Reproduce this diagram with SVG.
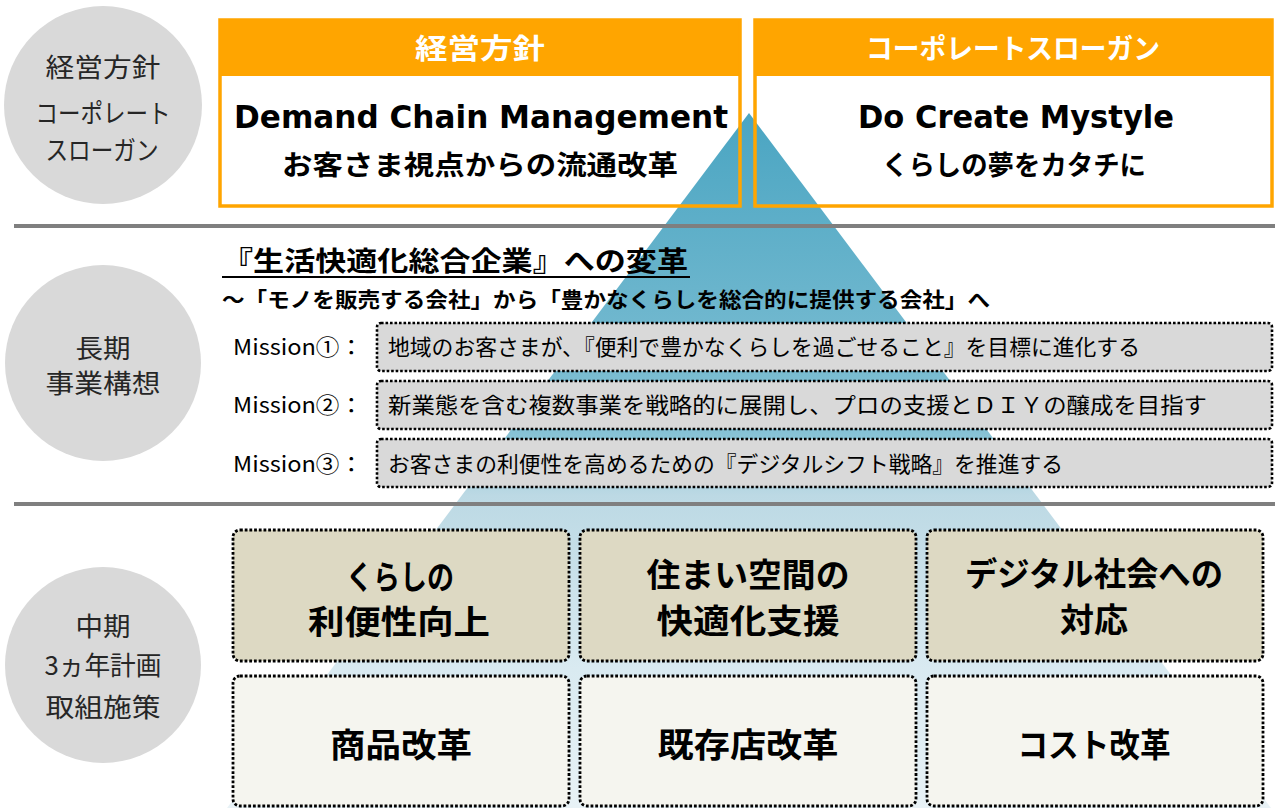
<svg xmlns="http://www.w3.org/2000/svg" width="1275" height="808" viewBox="0 0 1275 808">
<defs>
<linearGradient id="pyr" gradientUnits="userSpaceOnUse" x1="0" y1="113" x2="0" y2="808">
<stop offset="0" stop-color="#4aa5c2"/>
<stop offset="0.3" stop-color="#6fb7ce"/>
<stop offset="0.46" stop-color="#86c2d5"/>
<stop offset="0.55" stop-color="#bcd9e4"/>
<stop offset="0.8" stop-color="#d9eaf1"/>
<stop offset="1" stop-color="#e8f2f6"/>
</linearGradient>
<style>
.jp{font-family:'Noto Sans CJK JP','Noto Sans',sans-serif;}
.lat{font-family:'DejaVu Sans','Noto Sans CJK JP',sans-serif;}
.circ{fill:#d9d9d9;}
.ctxt{font-size:26px;fill:#262626;text-anchor:middle;}
.sep{stroke:#7f7f7f;stroke-width:4;}
.obox{fill:none;stroke:#ffa500;stroke-width:3.5;}
.ohead{fill:#ffa500;}
.htxt{font-size:28px;font-weight:bold;fill:#fff;text-anchor:middle;}
.big{font-size:32px;font-weight:bold;fill:#000;text-anchor:middle;}
.sub{font-size:27px;font-weight:bold;fill:#000;text-anchor:middle;}
.mbox{fill:#d9d9d9;stroke:#000;stroke-width:2.6;stroke-dasharray:2.6 1.9;}
.mtxt{font-size:22px;fill:#000;}
.tbox{fill:#ddd9c3;stroke:#000;stroke-width:2.8;stroke-dasharray:2.8 1.9;}
.bbox{fill:#f5f5ef;stroke:#000;stroke-width:2.8;stroke-dasharray:2.8 1.9;}
.btxt{font-size:33px;font-weight:bold;fill:#000;text-anchor:middle;}
</style>
</defs>
<rect width="1275" height="808" fill="#fff"/>

<!-- white fills of top boxes -->
<rect x="220" y="20" width="520" height="186" fill="#fff"/>
<rect x="755" y="20" width="517" height="186" fill="#fff"/>

<!-- pyramid background -->
<polygon id="pyramid" points="749,113 1271,808 227,808" fill="url(#pyr)"/>

<!-- separators -->
<g id="separators">
<line class="sep" x1="14" y1="226" x2="1275" y2="226"/>
<line class="sep" x1="14" y1="504" x2="1275" y2="504"/>
</g>

<!-- side circles -->
<g id="circle1">
<circle class="circ" cx="103" cy="105" r="99"/>
<text class="jp ctxt" x="103" y="77" textLength="115" lengthAdjust="spacingAndGlyphs">経営方針</text>
<text class="jp ctxt" x="103" y="123" textLength="135" lengthAdjust="spacingAndGlyphs">コーポレート</text>
<text class="jp ctxt" x="102" y="160" textLength="113" lengthAdjust="spacingAndGlyphs">スローガン</text>
</g>
<g id="circle2">
<circle class="circ" cx="103" cy="363" r="98"/>
<text class="jp ctxt" x="103" y="358" textLength="55" lengthAdjust="spacingAndGlyphs">長期</text>
<text class="jp ctxt" x="103" y="393" textLength="115" lengthAdjust="spacingAndGlyphs">事業構想</text>
</g>
<g id="circle3">
<circle class="circ" cx="103" cy="665" r="98"/>
<text class="jp ctxt" x="103" y="636" textLength="55" lengthAdjust="spacingAndGlyphs">中期</text>
<text class="jp ctxt" x="103" y="675" textLength="117" lengthAdjust="spacingAndGlyphs">3ヵ年計画</text>
<text class="jp ctxt" x="103" y="717" textLength="115" lengthAdjust="spacingAndGlyphs">取組施策</text>
</g>

<!-- top boxes -->
<g id="policy">
<rect class="ohead" x="220" y="20" width="520" height="56"/>
<rect class="obox" x="220" y="20" width="520" height="186"/>
<text class="jp htxt" x="480" y="59" textLength="130" lengthAdjust="spacingAndGlyphs">経営方針</text>
<text class="lat big" x="481" y="128" textLength="494" lengthAdjust="spacingAndGlyphs">Demand Chain Management</text>
<text class="jp sub" x="480" y="175" textLength="396" lengthAdjust="spacingAndGlyphs">お客さま視点からの流通改革</text>
</g>
<g id="slogan">
<rect class="ohead" x="755" y="20" width="517" height="56"/>
<rect class="obox" x="755" y="20" width="517" height="186"/>
<text class="jp htxt" x="1013" y="59" textLength="294" lengthAdjust="spacingAndGlyphs">コーポレートスローガン</text>
<text class="lat big" x="1016" y="128" textLength="316" lengthAdjust="spacingAndGlyphs">Do Create Mystyle</text>
<text class="jp sub" x="1014" y="175" textLength="264" lengthAdjust="spacingAndGlyphs">くらしの夢をカタチに</text>
</g>

<!-- long-term vision -->
<g id="vision-title">
<text class="jp" x="222" y="271" font-size="27" font-weight="bold" fill="#000" textLength="466" lengthAdjust="spacingAndGlyphs">『生活快適化総合企業』への変革</text>
<line x1="222" y1="277" x2="690" y2="277" stroke="#000" stroke-width="2"/>
<text class="jp" x="222" y="307" font-size="21" font-weight="bold" fill="#000" textLength="768" lengthAdjust="spacingAndGlyphs">～「モノを販売する会社」から「豊かなくらしを総合的に提供する会社」へ</text>
</g>

<g id="mission1">
<text class="jp mtxt" x="233" y="355" textLength="130" lengthAdjust="spacingAndGlyphs">Mission①：</text>
<rect class="mbox" x="377" y="323" width="895" height="48" rx="4"/>
<text class="jp mtxt" x="388" y="355" textLength="752" lengthAdjust="spacingAndGlyphs">地域のお客さまが、『便利で豊かなくらしを過ごせること』を目標に進化する</text>
</g>
<g id="mission2">
<text class="jp mtxt" x="233" y="413" textLength="130" lengthAdjust="spacingAndGlyphs">Mission②：</text>
<rect class="mbox" x="377" y="381" width="895" height="48" rx="4"/>
<text class="jp mtxt" x="388" y="413" textLength="819" lengthAdjust="spacingAndGlyphs">新業態を含む複数事業を戦略的に展開し、プロの支援とＤＩＹの醸成を目指す</text>
</g>
<g id="mission3">
<text class="jp mtxt" x="233" y="472" textLength="130" lengthAdjust="spacingAndGlyphs">Mission③：</text>
<rect class="mbox" x="377" y="439" width="895" height="48" rx="4"/>
<text class="jp mtxt" x="388" y="472" textLength="675" lengthAdjust="spacingAndGlyphs">お客さまの利便性を高めるための『デジタルシフト戦略』を推進する</text>
</g>

<!-- mid-term plan -->
<g id="theme1">
<rect class="tbox" x="233" y="530" width="336" height="131" rx="7"/>
<text class="jp btxt" x="400" y="589" textLength="108" lengthAdjust="spacingAndGlyphs">くらしの</text>
<text class="jp btxt" x="399" y="634" textLength="182" lengthAdjust="spacingAndGlyphs">利便性向上</text>
</g>
<g id="theme2">
<rect class="tbox" x="580" y="530" width="336" height="131" rx="7"/>
<text class="jp btxt" x="748" y="587" textLength="203" lengthAdjust="spacingAndGlyphs">住まい空間の</text>
<text class="jp btxt" x="748" y="633" textLength="183" lengthAdjust="spacingAndGlyphs">快適化支援</text>
</g>
<g id="theme3">
<rect class="tbox" x="927" y="530" width="336" height="131" rx="7"/>
<text class="jp btxt" x="1094" y="586" textLength="258" lengthAdjust="spacingAndGlyphs">デジタル社会への</text>
<text class="jp btxt" x="1094" y="632" textLength="68" lengthAdjust="spacingAndGlyphs">対応</text>
</g>
<g id="reform1">
<rect class="bbox" x="233" y="676" width="336" height="130" rx="7"/>
<text class="jp btxt" x="401" y="757" textLength="142" lengthAdjust="spacingAndGlyphs">商品改革</text>
</g>
<g id="reform2">
<rect class="bbox" x="580" y="676" width="336" height="130" rx="7"/>
<text class="jp btxt" x="748" y="757" textLength="181" lengthAdjust="spacingAndGlyphs">既存店改革</text>
</g>
<g id="reform3">
<rect class="bbox" x="927" y="676" width="336" height="130" rx="7"/>
<text class="jp btxt" x="1094" y="757" textLength="153" lengthAdjust="spacingAndGlyphs">コスト改革</text>
</g>
</svg>
